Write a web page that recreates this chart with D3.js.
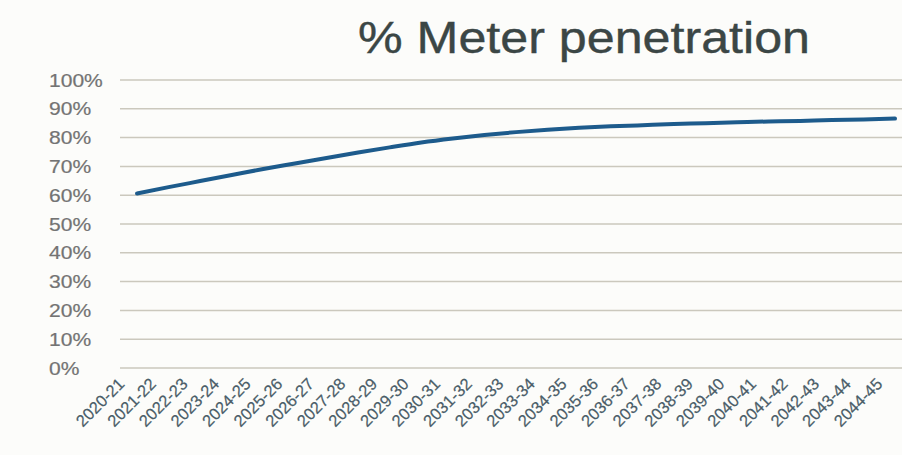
<!DOCTYPE html>
<html>
<head>
<meta charset="utf-8">
<script src="https://cdnjs.cloudflare.com/ajax/libs/d3/7.8.5/d3.min.js"></script>
<style>
  html, body { margin: 0; padding: 0; background: #fcfcfa; }
  svg { display: block; font-family: "Liberation Sans", Arial, sans-serif; }
</style>
</head>
<body>
<div id="chart"></div>
<script>
// Data
var years = ["2020-21", "2021-22", "2022-23", "2023-24", "2024-25", "2025-26", "2026-27",
    "2027-28", "2028-29", "2029-30", "2030-31", "2031-32", "2032-33", "2033-34", "2034-35",
    "2035-36", "2036-37", "2037-38", "2038-39", "2039-40", "2040-41", "2041-42", "2042-43",
    "2043-44", "2044-45"];
var penetration = [60.6, 62.8, 64.9, 67.0, 69.1, 71.0, 72.9, 74.8, 76.6, 78.3, 79.7, 80.9,
    81.9, 82.7, 83.4, 83.9, 84.3, 84.7, 85.0, 85.3, 85.6, 85.8, 86.1, 86.3, 86.6];
var yTicks = [0, 10, 20, 30, 40, 50, 60, 70, 80, 90, 100];
var title = "% Meter penetration";

// SVG area
var svgWidth = 902;
var svgHeight = 455;

var svg = d3.select("#chart")
    .append("svg")
    .attr("width", svgWidth)
    .attr("height", svgHeight);

svg.append("rect")
    .attr("width", svgWidth)
    .attr("height", svgHeight)
    .attr("fill", "#fcfcfa");

// scales
var xScale = d3.scalePoint()
    .domain(years)
    .range([137, 895]);

var yScale = d3.scaleLinear()
    .domain([0, 100])
    .range([368, 80]);

// title
svg.append("text")
    .attr("x", 358)
    .attr("y", 53)
    .attr("font-size", 44)
    .attr("fill", "#3b4645")
    .attr("stroke", "#3b4645")
    .attr("stroke-width", 0.4)
    .attr("textLength", 452)
    .attr("lengthAdjust", "spacingAndGlyphs")
    .text(title);

// gridlines
svg.append("g")
    .selectAll("line")
    .data(yTicks)
    .enter()
    .append("line")
    .attr("x1", 120)
    .attr("x2", svgWidth)
    .attr("y1", d => yScale(d))
    .attr("y2", d => yScale(d))
    .attr("stroke", "#cbc8bd")
    .attr("stroke-width", 1.5);

// y labels (left aligned, a bit stretched like the scan)
svg.append("g")
    .selectAll("text")
    .data(yTicks)
    .enter()
    .append("text")
    .attr("transform", d => `translate(49, ${yScale(d) + 6.5}) scale(1.17, 1)`)
    .attr("font-size", 18)
    .attr("fill", "#737373")
    .attr("stroke", "#737373")
    .attr("stroke-width", 0.2)
    .text(d => d + "%");

// x axis labels through d3 axis
var xAxis = d3.axisBottom(xScale).tickSize(0).tickPadding(0);

var xAxisGroup = svg.append("g")
    .attr("transform", "translate(0, 376)")
    .call(xAxis);

xAxisGroup.select(".domain").remove();

xAxisGroup.selectAll("text")
    .attr("font-family", "\"Liberation Sans\", Arial, sans-serif")
    .attr("font-size", 16.5)
    .attr("fill", "#4a5d68")
    .attr("stroke", "#4a5d68")
    .attr("stroke-width", 0.2)
    .attr("text-anchor", "end")
    .attr("dy", 0)
    .attr("y", 0)
    .attr("transform", "translate(-12, 9) rotate(-45)");

// the line
var line = d3.line()
    .x((d, i) => xScale(years[i]))
    .y(d => yScale(d))
    .curve(d3.curveMonotoneX);

svg.append("path")
    .datum(penetration)
    .attr("d", line)
    .attr("fill", "none")
    .attr("stroke", "#1d5b8c")
    .attr("stroke-width", 4)
    .attr("stroke-linecap", "round");
</script>
</body>
</html>
